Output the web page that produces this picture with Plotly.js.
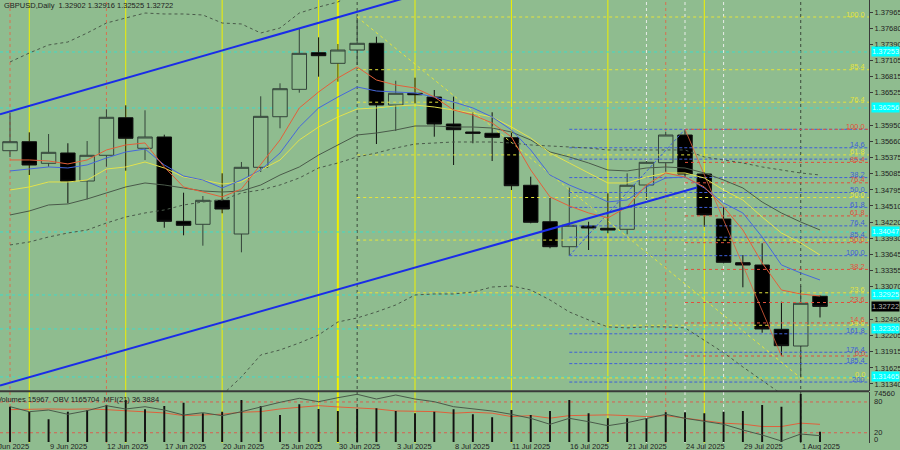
<!DOCTYPE html>
<html><head><meta charset="utf-8">
<script src="https://cdn.plot.ly/plotly-3.0.1.min.js"></script>
<style>html,body{margin:0;padding:0;background:#8FBC8F;}#chart{width:900px;height:450px;}</style>
</head><body><div id="chart"></div>
<script>
// ---------- data ----------
const dates = ['2025-06-05','2025-06-06','2025-06-09','2025-06-10','2025-06-11','2025-06-12','2025-06-13','2025-06-16','2025-06-17','2025-06-18','2025-06-19','2025-06-20','2025-06-23','2025-06-24','2025-06-25','2025-06-26','2025-06-27','2025-06-30','2025-07-01','2025-07-02','2025-07-03','2025-07-04','2025-07-07','2025-07-08','2025-07-09','2025-07-10','2025-07-11','2025-07-14','2025-07-15','2025-07-16','2025-07-17','2025-07-18','2025-07-21','2025-07-22','2025-07-23','2025-07-24','2025-07-25','2025-07-28','2025-07-29','2025-07-30','2025-07-31','2025-08-01','2025-08-04'];
const openP  = [1.35495,1.35655,1.35270,1.35454,1.34955,1.35413,1.36082,1.35538,1.35739,1.34237,1.34184,1.34611,1.34011,1.35199,1.36100,1.36588,1.37240,1.37051,1.37288,1.37408,1.36309,1.36517,1.36451,1.35970,1.35828,1.35805,1.35726,1.34879,1.34230,1.33785,1.34154,1.34113,1.34095,1.34884,1.35281,1.35774,1.35080,1.34278,1.33500,1.33459,1.32314,1.32016,1.32902];
const highP  = [1.36166,1.35822,1.35792,1.35627,1.35667,1.36232,1.36303,1.36214,1.35780,1.34747,1.34688,1.35092,1.35294,1.36464,1.36695,1.37675,1.37514,1.37395,1.37876,1.37525,1.36741,1.36795,1.36576,1.36457,1.36179,1.36179,1.35815,1.35032,1.34652,1.34836,1.34230,1.34736,1.35092,1.35311,1.35833,1.35876,1.35103,1.34497,1.33637,1.33846,1.32805,1.33085,1.32916];
const lowP   = [1.35382,1.35062,1.35210,1.34558,1.34629,1.35210,1.35139,1.35329,1.34123,1.33988,1.33803,1.34380,1.33685,1.35115,1.35894,1.36528,1.36813,1.36724,1.37021,1.35614,1.35846,1.36339,1.35744,1.35240,1.35627,1.35311,1.34795,1.34202,1.33757,1.33625,1.33726,1.34024,1.34006,1.34617,1.35121,1.35003,1.34141,1.33489,1.33062,1.32253,1.31838,1.31447,1.32525];
const closeP = [1.35655,1.35240,1.35466,1.34950,1.35413,1.36090,1.35716,1.35739,1.34237,1.34166,1.34611,1.34456,1.35199,1.36107,1.36599,1.37229,1.37187,1.37288,1.37408,1.36309,1.36517,1.36492,1.35970,1.35869,1.35805,1.35733,1.34871,1.34220,1.33785,1.34166,1.34118,1.34082,1.34879,1.35288,1.35774,1.35080,1.34350,1.33507,1.33459,1.32319,1.32022,1.32777,1.32722];

const maRed    = [1.35330,1.35330,1.35312,1.35259,1.35330,1.35508,1.35597,1.35633,1.35205,1.34849,1.34760,1.34671,1.34813,1.35241,1.35686,1.36256,1.36541,1.36790,1.36986,1.36754,1.36665,1.36612,1.36452,1.36220,1.36131,1.35989,1.35739,1.35152,1.34671,1.34511,1.34386,1.34297,1.34493,1.34885,1.35098,1.35027,1.34849,1.34493,1.34083,1.33496,1.33014,1.32943,1.32907];
const maBlue   = [1.35134,1.35169,1.35205,1.35187,1.35241,1.35365,1.35472,1.35525,1.35241,1.35044,1.34973,1.34831,1.34973,1.35151,1.35454,1.35917,1.36256,1.36451,1.36630,1.36558,1.36541,1.36523,1.36451,1.36362,1.36256,1.36095,1.35864,1.35508,1.35062,1.34884,1.34742,1.34582,1.34617,1.34849,1.35009,1.35027,1.34831,1.34564,1.34385,1.33958,1.33460,1.33317,1.33192];
const maYellow = [1.34795,1.34849,1.34938,1.34938,1.34973,1.35169,1.35205,1.35294,1.35187,1.35027,1.34973,1.34902,1.34938,1.35151,1.35329,1.35686,1.35917,1.36095,1.36238,1.36256,1.36291,1.36309,1.36273,1.36220,1.36166,1.36095,1.35917,1.35721,1.35454,1.35276,1.35098,1.34920,1.34920,1.35027,1.35098,1.35098,1.35009,1.34795,1.34617,1.34314,1.34029,1.33851,1.33637];
const maDark   = [1.34350,1.34421,1.34528,1.34546,1.34635,1.34742,1.34849,1.34920,1.34884,1.34831,1.34777,1.34759,1.34777,1.34884,1.35062,1.35205,1.35418,1.35597,1.35775,1.35810,1.35864,1.35935,1.35935,1.35917,1.35917,1.35899,1.35828,1.35686,1.35472,1.35383,1.35276,1.35151,1.35134,1.35187,1.35205,1.35187,1.35098,1.34973,1.34831,1.34581,1.34385,1.34225,1.34083];
const bandMid  = [1.33816,1.33869,1.33958,1.34029,1.34083,1.34207,1.34314,1.34386,1.34439,1.34528,1.34581,1.34617,1.34742,1.34795,1.34884,1.35009,1.35187,1.35276,1.35383,1.35454,1.35543,1.35614,1.35632,1.35650,1.35650,1.35650,1.35632,1.35597,1.35579,1.35561,1.35543,1.35508,1.35508,1.35508,1.35508,1.35508,1.35383,1.35329,1.35276,1.35205,1.35151,1.35098,1.35062];
const bandUpper = [1.37075,1.37235,1.37378,1.37431,1.37591,1.37769,1.37858,1.37947,1.37930,1.37930,1.37912,1.37769,1.37752,1.37591,1.37680,1.37947,1.38054,1.38143,1.38322,null,null,null,null,null,null,null,null,null,null,null,null,null,null,null,null,null,null,null,null,null,null,null,null];
const bandLower = [null,null,null,null,null,null,null,null,null,null,null,1.31144,1.31465,1.31857,1.31946,1.32070,1.32213,1.32444,1.32516,1.32623,1.32747,1.32925,1.32943,1.32943,1.32978,1.33067,1.33085,1.33014,1.32836,1.32623,1.32481,1.32357,1.32339,1.32357,1.32357,1.32339,1.32123,1.31898,1.31643,1.31411,1.31162,null,null];

const volumes = [54800,47060,35250,47060,49700,57460,65230,50780,55910,61030,44570,47060,65230,55910,41930,58550,51250,48140,51250,52340,48140,44570,47060,50780,43020,38360,49700,41930,48140,65230,44570,36810,36810,36810,46120,46120,44570,47060,48140,57460,54820,74560,15967];
const mfi = [65.0,66.4,66.4,65.8,66.4,65.0,63.1,61.9,58.6,53.4,54.8,56.1,60.0,61.2,66.4,68.9,72.8,70.3,68.9,66.4,62.5,61.2,61.2,58.1,60.0,58.1,51.5,53.4,48.4,53.4,54.8,54.8,53.4,51.5,53.4,48.4,43.2,38.7,36.8,32.1,32.1,38.7,36.3884];
const obv = [1474600,1421300,1439400,1393600,1431900,1485200,1450100,1474600,1439400,1386200,1410700,1378700,1421300,1474600,1521400,1564000,1527800,1570400,1606600,1556600,1599200,1556600,1527800,1474600,1450100,1428800,1393600,1351000,1287100,1351000,1314800,1272200,1304100,1351000,1393600,1351000,1322300,1287100,1226400,1173200,1109300,1183800,1165704];

const dateLabelIdx  = [-1,2,5,8,11,14,17,20,23,26,29,32,35,38,41];
const dateLabelText = ['4 Jun 2025','9 Jun 2025','12 Jun 2025','17 Jun 2025','20 Jun 2025','25 Jun 2025','30 Jun 2025','3 Jul 2025','8 Jul 2025','11 Jul 2025','16 Jul 2025','21 Jul 2025','24 Jul 2025','29 Jul 2025','1 Aug 2025'];
const priceTicks = [1.37965,1.37680,1.37390,1.37105,1.36815,1.36525,1.35950,1.35660,1.35375,1.35085,1.34795,1.34510,1.34220,1.33930,1.33645,1.33355,1.33070,1.32490,1.32205,1.31915,1.31625,1.31340];
const levelPrices = [1.37253,1.36256,1.34047,1.32925,1.32320,1.31465];

const fibStd = [0,14.6,23.6,38.2,50,61.8,76.4,85.4,100];
const fibBlueLevels = [0,14.6,23.6,38.2,50,61.8,76.4,85.4,100,161.8,176.4,185.4,200];
const fibBlueLabels = ['','14.6','','38.2','50.0','61.8','76.4','85.4','100.0','161.8','176.4','185.4','200'];
const fibYellowLabels = ['0.0','14.6','23.6','','50.0','61.8','76.4','85.4','100.0'];
const fibRedLabels = ['0.0','14.6','23.6','38.2','50.0','61.8','76.4','85.4','100.0'];

const trendUpperIdx = [-0.5185, 22.3], trendUpperPrice = [1.36143, 1.38393];
const trendLowerIdx = [-0.5185, 35.62], trendLowerPrice = [1.31313, 1.34840];

const vYellow = [1,6,11,16,17,21,26,31,36];
const vRed = [0,5,34];
const vWhite = [33,35,37];
const vDark = [18,41];

// ---------- chart ----------
const idx = dates.map((d,i)=>i);
const X_MIN = -0.5185, X_MAX = 44.54;
const FONT = 'Liberation Sans, Arial, sans-serif';
const traces = [];

function line(x,y,color,dash,width,yaxis){
  return {type:'scatter',mode:'lines',x:x,y:y,line:{color:color,dash:dash||'solid',width:width||1},
    yaxis:yaxis||'y',hoverinfo:'skip',showlegend:false,connectgaps:false};
}
const yHi = highP[18], yLo = lowP[41];
const rHi = highP[35], rLo = lowP[40];
const bHi = highP[35], bLo = lowP[29];
const annotations = [];
function fibSet(start, prices, labels, color, dash){
  prices.forEach((p,k)=>{
    traces.push(line([start,X_MAX],[p,p],color,dash,1));
    if(labels[k]) annotations.push({xref:'paper',x:1,xanchor:'right',xshift:-2,yref:'y',y:p,yanchor:'middle',yshift:3,
      text:labels[k],showarrow:false,font:{family:FONT,size:7.5,color:color}});
  });
}
fibSet(29, fibBlueLevels.map(r=>bHi - r/100*(bHi-bLo)), fibBlueLabels, '#3f5fd8', '3px,2px');
fibSet(18, fibStd.map(r=>yLo + r/100*(yHi-yLo)), fibYellowLabels, '#e4e43c', 'dot');
fibSet(35, fibStd.map(r=>rLo + r/100*(rHi-rLo)), fibRedLabels, '#e0503c', 'dot');
traces.push(line([18,41],[yHi,yLo],'#e4e43c','dot',1));
traces.push(line([29,35],[bLo,bHi],'#3f5fd8','3px,2px',1));
traces.push(line([35,40],[rHi,rLo],'#e0603c','solid',0.8));

traces.push(line(idx,bandUpper,'#4a5a4a','dot',1));
traces.push(line(idx,bandMid,'#4a5a4a','dot',1));
traces.push(line(idx,bandLower,'#4a5a4a','dot',1));
traces.push(line(idx,maDark,'#4a5a4a','solid',1));
traces.push(line(idx,maYellow,'#e2e24e','solid',1));
traces.push(line(idx,maBlue,'#4668dc','solid',1));
traces.push(line(idx,maRed,'#e4603a','solid',1));
traces.push(line(trendUpperIdx,trendUpperPrice,'#1a2ce8','solid',2));
traces.push(line(trendLowerIdx,trendLowerPrice,'#1a2ce8','solid',2));

traces.push({type:'candlestick',x:idx,open:openP,high:highP,low:lowP,close:closeP,
  increasing:{line:{color:'#34443a',width:1},fillcolor:'#8FBC8F'},
  decreasing:{line:{color:'#101010',width:1},fillcolor:'#000000'},
  whiskerwidth:0,hoverinfo:'skip',showlegend:false});

traces.push({type:'bar',x:idx,y:volumes,yaxis:'y3',width:0.1,marker:{color:'#111111',line:{width:0}},hoverinfo:'skip',showlegend:false});
traces.push(line(idx,obv,'#4a5a4a','solid',1,'y4'));
traces.push(line(idx,mfi,'#e0603c','solid',1,'y2'));

const shapes = [];
function vline(i,color,dash,width){
  shapes.push({type:'line',xref:'x',x0:i,x1:i,yref:'paper',y0:0,y1:1,layer:'below',line:{color:color,dash:dash,width:width}});
}
vYellow.forEach(i=>vline(i,'#f0f000','solid',i===17?2:1));
vRed.forEach(i=>vline(i,'#d87050','dot',1));
vWhite.forEach(i=>vline(i,'#e8ece8','dot',1));
vDark.forEach(i=>vline(i,'#3c4a3c','dot',1));
levelPrices.forEach(p=>{
  shapes.push({type:'line',xref:'paper',x0:0,x1:1,yref:'y',y0:p,y1:p,layer:'below',line:{color:'#40dcc8',dash:'dot',width:1}});
  annotations.push({xref:'paper',x:1,xanchor:'left',xshift:2,yref:'y',y:p,yanchor:'middle',text:p.toFixed(5),
    showarrow:false,bgcolor:'#00ffff',borderpad:0,font:{family:FONT,size:7.5,color:'#d8ffff'}});
});
[80,20].forEach(v=>shapes.push({type:'line',xref:'paper',x0:0,x1:1,yref:'y2',y0:v,y1:v,layer:'below',line:{color:'#d86050',dash:'dot',width:1}}));
shapes.push({type:'line',xref:'paper',x0:0,x1:1,yref:'paper',y0:0.1166,y1:0.1166,line:{color:'#3a3a3a',width:2}});

annotations.push({xref:'paper',x:1,xanchor:'left',xshift:2,yref:'y',y:closeP[42],yanchor:'middle',text:closeP[42].toFixed(5),
  showarrow:false,bgcolor:'#000000',borderpad:0,font:{family:FONT,size:7.5,color:'#b0b0b0'}});
annotations.push({xref:'paper',x:0,xanchor:'left',xshift:2,yref:'paper',y:1,yanchor:'top',yshift:1,
  text:'GBPUSD,Daily  '+openP[42].toFixed(5)+' '+highP[42].toFixed(5)+' '+lowP[42].toFixed(5)+' '+closeP[42].toFixed(5),
  showarrow:false,font:{family:FONT,size:7.5,color:'#222222'}});
annotations.push({xref:'paper',x:0,xanchor:'left',xshift:-5,yref:'paper',y:0.1158,yanchor:'top',yshift:-1,
  text:'Volumes '+volumes[42]+'  OBV '+obv[42]+'  MFI(21) '+mfi[42].toFixed(4),showarrow:false,font:{family:FONT,size:7.5,color:'#222222'}});
annotations.push({xref:'paper',x:1,xanchor:'left',xshift:3,yref:'y3',y:74560,yanchor:'middle',text:'74560',showarrow:false,font:{family:FONT,size:7.5,color:'#222222'}});
annotations.push({xref:'paper',x:1,xanchor:'left',xshift:3,yref:'y2',y:80,yanchor:'middle',text:'80',showarrow:false,font:{family:FONT,size:7.5,color:'#222222'}});
annotations.push({xref:'paper',x:1,xanchor:'left',xshift:3,yref:'y2',y:20,yanchor:'middle',text:'20',showarrow:false,font:{family:FONT,size:7.5,color:'#222222'}});
annotations.push({xref:'paper',x:1,xanchor:'left',xshift:3,yref:'y2',y:6,yanchor:'middle',text:'0',showarrow:false,font:{family:FONT,size:7.5,color:'#222222'}});
// date labels: positioned in paper space so the partly-visible first label is kept
dateLabelIdx.forEach((i,k)=>annotations.push({xref:'paper',x:(i-X_MIN)/(X_MAX-X_MIN),xanchor:'left',xshift:-1,yref:'paper',y:0,yanchor:'middle',yshift:-3,
  text:dateLabelText[k],showarrow:false,font:{family:FONT,size:7.5,color:'#222222'}}));

const layout = {
  width:900,height:450,margin:{l:0,r:31,t:0,b:7},
  paper_bgcolor:'#8FBC8F',plot_bgcolor:'#8FBC8F',showlegend:false,boxgap:0.25,boxgroupgap:0,
  font:{family:FONT,size:7.5,color:'#222222'},
  xaxis:{range:[X_MIN,X_MAX],showticklabels:false,showgrid:false,zeroline:false,showline:false,rangeslider:{visible:false},fixedrange:true},
  yaxis:{domain:[0.1174,1],range:[1.31215,1.38179],side:'right',tickvals:priceTicks,ticktext:priceTicks.map(v=>v.toFixed(5)),
    showgrid:false,zeroline:false,showline:true,linecolor:'#3a3a3a',linewidth:1,ticks:'outside',ticklen:3,tickcolor:'#3a3a3a',
    tickfont:{family:FONT,size:7.5,color:'#222222'}},
  yaxis2:{domain:[0,0.1158],range:[0,100],side:'right',showticklabels:false,showgrid:false,zeroline:false,showline:true,linecolor:'#3a3a3a',ticks:''},
  yaxis3:{overlaying:'y2',range:[-1553,78116],visible:false},
  yaxis4:{overlaying:'y2',range:[1087959,1634304],visible:false},
  shapes:shapes,annotations:annotations
};
Plotly.newPlot('chart',traces,layout,{displayModeBar:false,staticPlot:true});
</script></body></html>
